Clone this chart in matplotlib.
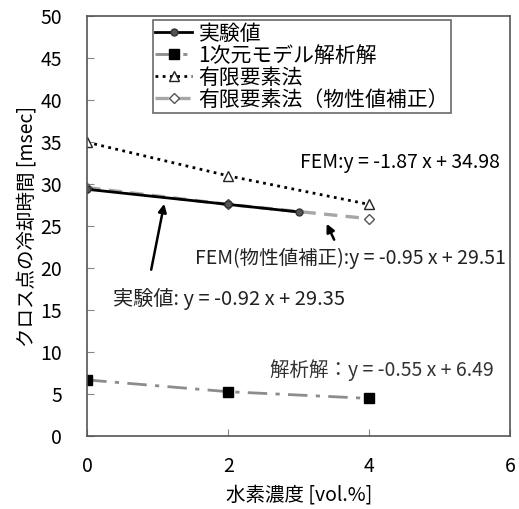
import matplotlib.pyplot as plt

plt.rcParams['font.family'] = ['Noto Sans CJK JP', 'DejaVu Sans']

# data
x_exp = [0, 2, 3]
y_exp = [29.4, 27.6, 26.7]
x_model = [0, 2, 4]
y_model = [6.7, 5.3, 4.5]
x_fem = [0, 2, 4]
y_fem = [35.0, 31.0, 27.6]
x_fem2 = [0, 2, 4]
y_fem2 = [29.6, 27.6, 25.9]

labels = ['実験値', '1次元モデル解析解', '有限要素法', '有限要素法（物性値補正）']

fig, ax = plt.subplots(figsize=(5.19, 5.09), dpi=100)
fig.subplots_adjust(left=0.168, right=0.983, top=0.968, bottom=0.143)

ax.plot(x_fem2, y_fem2, color='#a6a6a6', ls=(0, (4, 2.5)), lw=2.4,
        marker='D', ms=5, mfc='white', mec='#555555', mew=1, label=labels[3])
ax.plot(x_exp, y_exp, color='black', ls='-', lw=2,
        marker='o', ms=5, mfc='#555555', mec='#333333', label=labels[0])
ax.plot(x_model, y_model, color='#8c8c8c', ls=(0, (7, 3, 1.5, 3)), lw=2,
        marker='s', ms=7, mfc='black', mec='black', label=labels[1])
ax.plot(x_fem, y_fem, color='black', ls=(0, (1, 1.6)), lw=2,
        marker='^', ms=7, mfc='white', mec='#222222', mew=1, label=labels[2])

h, l = ax.get_legend_handles_labels()
order = [1, 2, 3, 0]
leg = ax.legend([h[i] for i in order], [l[i] for i in order],
                loc='upper left', bbox_to_anchor=(0.155, 0.99), fontsize=15,
                frameon=True, fancybox=False, edgecolor='#444444',
                handlelength=1.8, handletextpad=0.3, borderpad=0.1,
                labelspacing=0.0, borderaxespad=0.0)
leg.get_frame().set_linewidth(1.2)

fs = 14
ax.text(3.02, 32.6, 'FEM:y = -1.87 x + 34.98', fontsize=fs, va='center')
ax.text(1.53, 21.2, 'FEM(物性値補正):y = -0.95 x + 29.51', fontsize=fs,
        va='center', color='#222222')
ax.text(0.37, 16.4, '実験値: y = -0.92 x + 29.35', fontsize=14.5, va='center',
        color='#222222')
ax.text(2.6, 7.9, '解析解：y = -0.55 x + 6.49', fontsize=fs, va='center',
        color='#333333')

ax.annotate('', xy=(1.1, 28.0), xytext=(0.9, 19.5),
            arrowprops=dict(arrowstyle='-|>', color='black', lw=1.8,
                            mutation_scale=12))
ax.annotate('', xy=(3.38, 25.6), xytext=(3.52, 23.1),
            arrowprops=dict(arrowstyle='-|>', color='black', lw=1.8,
                            mutation_scale=12))

ax.set_xlim(0, 6)
ax.set_ylim(0, 50)
ax.set_xticks([0, 2, 4, 6])
ax.set_yticks(range(0, 51, 5))
ax.tick_params(direction='in', labelsize=14, length=5, color='#888888')
ax.tick_params(axis='x', pad=14)
ax.tick_params(axis='y', pad=18)
for s in ax.spines.values():
    s.set_color('#555555')
    s.set_linewidth(1.2)

ax.set_xlabel('水素濃度 [vol.%]', fontsize=14, labelpad=6)
ax.set_ylabel('クロス点の冷却時間 [msec]', fontsize=14, labelpad=2)

fig.savefig('out.png')
